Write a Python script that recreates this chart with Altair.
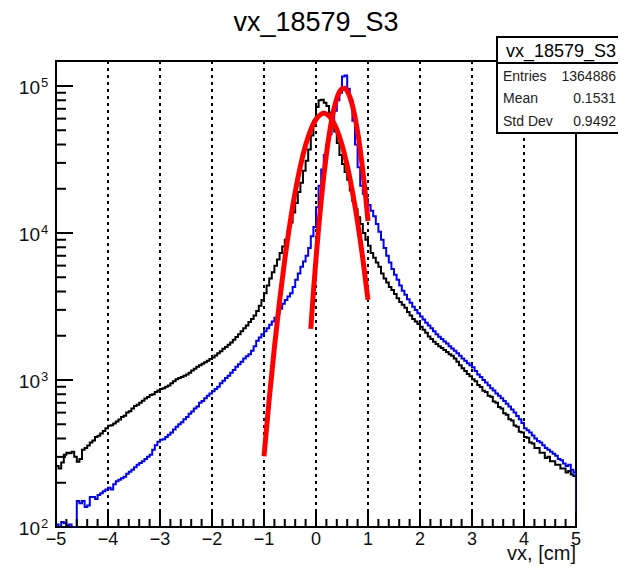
import altair as alt
import pandas as pd

# ---------------- data ----------------
x_lo, x_hi = -5.0, 5.0
bin_width = 0.05
y_lo, y_hi = 100, 148000

# black histogram, 200 bins of 0.05 from -5 to 5 (one row = one unit of x)
black_counts = (
    [260, 250, 275, 310, 320, 318, 325, 300, 278, 290, 335, 345, 358, 375, 388, 410, 418, 432, 450, 470]
    + [488, 492, 505, 522, 538, 560, 572, 600, 612, 640, 665, 678, 700, 722, 748, 765, 790, 800, 830, 850]
    + [868, 880, 900, 918, 950, 980, 1010, 1030, 1048, 1070, 1090, 1120, 1160, 1195, 1230, 1260, 1290, 1320, 1350, 1390]
    + [1420, 1470, 1520, 1570, 1630, 1680, 1740, 1800, 1880, 1960, 2050, 2150, 2250, 2350, 2480, 2600, 2750, 2950, 3200, 3500]
    + [3900, 4400, 4900, 5400, 6000, 6600, 7300, 8100, 9000, 10200, 11800, 13800, 16000, 19000, 22000, 26500, 31000, 37000, 46000, 58000]
    + [72000, 80000, 80500, 77000, 73000, 66000, 57000, 49000, 41000, 34000, 29500, 26000, 23000, 19500, 16500, 14500, 12800, 11500, 10000, 9000]
    + [8200, 7300, 6800, 6300, 5900, 5300, 4900, 4600, 4300, 4100, 3850, 3600, 3400, 3250, 3100, 2900, 2750, 2600, 2500, 2400]
    + [2300, 2200, 2100, 1980, 1900, 1820, 1760, 1700, 1650, 1600, 1550, 1500, 1460, 1400, 1330, 1260, 1200, 1150, 1100, 1060]
    + [1010, 980, 925, 895, 845, 830, 780, 770, 715, 700, 655, 640, 595, 580, 540, 530, 490, 480, 445, 440]
    + [410, 405, 375, 370, 345, 345, 320, 320, 295, 300, 280, 280, 265, 265, 250, 250, 235, 240, 228, 222]
)

# blue histogram
blue_counts = (
    [104, 100, 108, 106, 102, 104, 100, 100, 150, 145, 150, 137, 140, 160, 160, 155, 165, 170, 175, 180]
    + [185, 180, 195, 205, 210, 215, 220, 230, 238, 245, 255, 265, 272, 280, 290, 300, 310, 335, 360, 380]
    + [393, 395, 410, 425, 440, 460, 480, 500, 515, 540, 560, 590, 610, 640, 660, 700, 720, 750, 780, 810]
    + [840, 870, 900, 950, 990, 1030, 1070, 1120, 1170, 1230, 1280, 1330, 1400, 1450, 1500, 1580, 1700, 1850, 1950, 2050]
    + [2150, 2250, 2380, 2500, 2650, 2850, 3050, 3300, 3500, 3700, 3900, 4300, 4800, 5300, 5900, 6400, 7000, 7900, 9500, 11000]
    + [15000, 21000, 27000, 34000, 40000, 47000, 58000, 68000, 80000, 90000, 116000, 118000, 96000, 80000, 58000, 40000, 28000, 21000, 18500, 17000]
    + [15500, 14200, 13000, 11500, 10200, 9000, 7900, 7000, 6300, 5700, 5200, 4800, 4400, 4050, 3800, 3550, 3350, 3150, 3000, 2850]
    + [2700, 2580, 2450, 2350, 2250, 2150, 2050, 1970, 1900, 1830, 1770, 1700, 1640, 1580, 1520, 1460, 1400, 1350, 1300, 1260]
    + [1220, 1150, 1090, 1050, 1000, 960, 920, 880, 850, 810, 780, 750, 720, 690, 660, 630, 600, 570, 540, 510]
    + [470, 455, 440, 420, 400, 385, 375, 360, 345, 335, 325, 315, 305, 290, 285, 270, 260, 265, 245, 235]
)

# red fit curve on the black histogram
fit1_x = [-1.0, -0.9, -0.8, -0.7, -0.6, -0.5, -0.4, -0.3, -0.2, -0.1, 0.0, 0.1, 0.15, 0.2, 0.3, 0.4, 0.5, 0.6, 0.7, 0.8, 0.9, 1.0]
fit1_y = [303, 740, 1664, 3459, 6622, 11690, 19010, 28560, 39540, 50470, 59430, 64420, 65160, 64570, 59570, 50700, 39770, 28770, 19190, 11800, 6700, 3510]

# red fit curve on the blue histogram
fit2_x = [-0.1, -0.05, 0.0, 0.05, 0.1, 0.15, 0.2, 0.25, 0.3, 0.35, 0.4, 0.45, 0.5, 0.55, 0.6, 0.65, 0.7, 0.75, 0.8, 0.85, 0.9, 0.95, 1.0]
fit2_y = [2228, 3963, 6700, 10820, 16670, 24490, 34280, 45810, 58420, 70960, 82320, 91000, 95940, 96500, 92550, 84690, 73880, 61480, 48800, 36940, 26670, 18370, 12050]

grid_x = [-4, -3, -2, -1, 0, 1, 2, 3, 4]
x_major = [-5, -4, -3, -2, -1, 0, 1, 2, 3, 4, 5]
x_minor = [round(a + f, 1) for a in range(-5, 5) for f in (0.2, 0.4, 0.6, 0.8)]
y_major = [100, 1000, 10000, 100000]
y_exponents = ["2", "3", "4", "5"]
y_minor = [m * d for d in (100, 1000, 10000) for m in range(2, 10)]

title_text = "vx_18579_S3"
x_title = "vx, [cm]"
stats_header = "vx_18579_S3"
stats_names = ["Entries", "Mean", "Std Dev"]
stats_values = ["1364886", "0.1531", "0.9492"]

# ---------------- tables ----------------
def hist_table(counts):
    rows = []
    for i, c in enumerate(counts):
        rows.append({"x": x_lo + i * bin_width, "y": c, "o": i})
    rows.append({"x": x_hi, "y": counts[-1], "o": len(counts)})
    rows.append({"x": x_hi, "y": y_lo, "o": len(counts) + 1})
    return pd.DataFrame(rows)

black_df = hist_table(black_counts)
blue_df = hist_table(blue_counts)
fit1_df = pd.DataFrame({"x": fit1_x, "y": fit1_y})
fit2_df = pd.DataFrame({"x": fit2_x, "y": fit2_y})

W, H = 520, 466
FONT = "Liberation Sans"
INK = "#111111"

xs = alt.Scale(domain=[x_lo, x_hi], nice=False, zero=False)
ys = alt.Scale(type="log", domain=[y_lo, y_hi], nice=False)

grid = alt.Chart(pd.DataFrame({"g": grid_x})).mark_rule(
    color="black", strokeWidth=2, strokeDash=[3, 4]
).encode(x=alt.X("g:Q", scale=xs, axis=None), y=alt.value(0), y2=alt.value(H))

def hist_layer(df, color):
    return alt.Chart(df).mark_line(interpolate="step-after", clip=True, color=color, strokeWidth=2).encode(
        x=alt.X("x:Q", scale=xs, axis=None),
        y=alt.Y("y:Q", scale=ys, axis=None),
        order="o:Q",
    )

black = hist_layer(black_df, "black")
blue = hist_layer(blue_df, "#0000ff")

def fit_layer(df):
    return alt.Chart(df).mark_line(interpolate="monotone", clip=True, color="#ff0000", strokeWidth=5).encode(
        x=alt.X("x:Q", scale=xs, axis=None), y=alt.Y("y:Q", scale=ys, axis=None)
    )

fit1 = fit_layer(fit1_df)
fit2 = fit_layer(fit2_df)

xt_major = alt.Chart(pd.DataFrame({"t": x_major})).mark_rule(color="black", strokeWidth=2).encode(
    x=alt.X("t:Q", scale=xs, axis=None), y=alt.value(H), y2=alt.value(H - 15))
xt_minor = alt.Chart(pd.DataFrame({"t": x_minor})).mark_rule(color="black", strokeWidth=2).encode(
    x=alt.X("t:Q", scale=xs, axis=None), y=alt.value(H), y2=alt.value(H - 8))
yt_major = alt.Chart(pd.DataFrame({"t": y_major})).mark_rule(color="black", strokeWidth=2).encode(
    y=alt.Y("t:Q", scale=ys, axis=None), x=alt.value(0), x2=alt.value(17))
yt_minor = alt.Chart(pd.DataFrame({"t": y_minor})).mark_rule(color="black", strokeWidth=2).encode(
    y=alt.Y("t:Q", scale=ys, axis=None), x=alt.value(0), x2=alt.value(10))

# x tick labels (d3 "d" format writes negatives with a real minus sign)
xlab = alt.Chart(pd.DataFrame({"t": x_major})).mark_text(
    align="center", baseline="alphabetic", fontSize=18, font=FONT, color=INK
).encode(x=alt.X("t:Q", scale=xs, axis=None), y=alt.value(H + 18), text=alt.Text("t:Q", format="d"))

ylab_df = pd.DataFrame({"t": y_major, "e": y_exponents})
ylab_base = alt.Chart(ylab_df).mark_text(align="right", baseline="alphabetic", fontSize=19, font=FONT,
                                         color=INK, dy=8).encode(
    y=alt.Y("t:Q", scale=ys, axis=None), x=alt.value(-16), text=alt.value("10"))
ylab_exp = alt.Chart(ylab_df).mark_text(align="left", baseline="alphabetic", fontSize=13, font=FONT,
                                        color=INK, dy=1).encode(
    y=alt.Y("t:Q", scale=ys, axis=None), x=alt.value(-15), text="e:N")

one = pd.DataFrame({"a": [0]})
title = alt.Chart(one).mark_text(align="center", baseline="alphabetic", fontSize=27, font=FONT,
                                 color="black").encode(
    x=alt.value(W / 2), y=alt.value(-30), text=alt.value(title_text))
xtitle = alt.Chart(one).mark_text(align="right", baseline="alphabetic", fontSize=20, font=FONT,
                                  color=INK).encode(
    x=alt.value(W), y=alt.value(499), text=alt.value(x_title))

box = alt.Chart(one).mark_rect(fill="white", stroke="black", strokeWidth=2).encode(
    x=alt.value(441), x2=alt.value(580), y=alt.value(-24), y2=alt.value(72))
box_sep = alt.Chart(one).mark_rule(color="black", strokeWidth=2).encode(
    x=alt.value(441), x2=alt.value(580), y=alt.value(2), y2=alt.value(2))
box_head = alt.Chart(one).mark_text(align="center", baseline="alphabetic", fontSize=18, font=FONT,
                                    color="black").encode(
    x=alt.value(505), y=alt.value(-4), text=alt.value(stats_header))

row_y = [16, 38, 61]
stats_layers = []
for name, val, ry in zip(stats_names, stats_values, row_y):
    stats_layers.append(alt.Chart(one).mark_text(align="left", baseline="middle", fontSize=14, font=FONT,
                                                 color="#222222").encode(
        x=alt.value(447), y=alt.value(ry), text=alt.value(name)))
    stats_layers.append(alt.Chart(one).mark_text(align="right", baseline="middle", fontSize=14, font=FONT,
                                                 color="#222222").encode(
        x=alt.value(560), y=alt.value(ry), text=alt.value(val)))

chart = alt.layer(
    grid, black, blue, fit1, fit2,
    xt_major, xt_minor, yt_major, yt_minor,
    xlab, ylab_base, ylab_exp, title, xtitle,
    box, box_sep, box_head, *stats_layers,
).properties(
    width=W, height=H,
    autosize=alt.AutoSizeParams(type="none"),
    padding={"left": 48, "top": 53, "right": 42, "bottom": 37},
    background="white",
).configure_view(stroke="black", strokeWidth=2)

chart.save("out.html", embed_options={"renderer": "svg", "actions": False})
